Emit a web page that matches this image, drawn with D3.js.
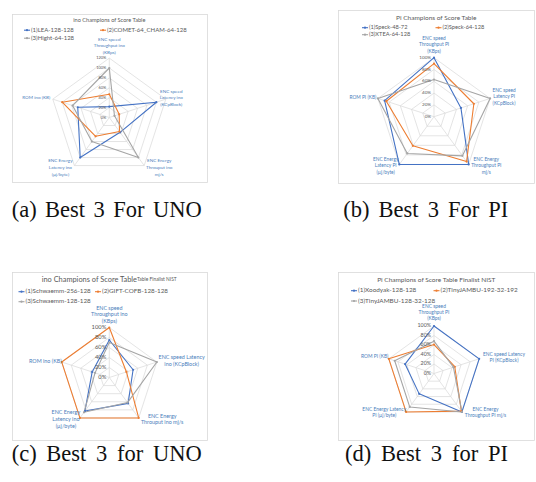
<!DOCTYPE html>
<html>
<head>
<meta charset="utf-8">
<script src="https://cdn.jsdelivr.net/npm/d3@7"></script>
<style>
  body { margin: 0; background: #fff; }
  svg { display: block; }
</style>
</head>
<body>
<svg id="fig" width="536" height="482"></svg>
<script>
// ---------- data ----------
// Axis order around each radar: top, right, lower right, lower left, left.

// (a) UNO
const titleA = ["ino  Champions of Score Table"];
const axisLabelsA = [
  ["ENC speed", "Throughput ino", "(KBps)"],
  ["ENC speed", "Latency ino", "(KCpBlock)"],
  ["ENC Energy", "Throuput ino", "mj/s"],
  ["ENC Energy", "Latency ino", "(µj/byte)"],
  ["ROM ino (KB)"]
];
const seriesA = ["(1)LEA-128-128", "(2)COMET-64_CHAM-64-128", "(3)Hight-64-128"];
const leaValues = [22, 100, 37, 100, 67];
const cometValues = [47, 21, 35, 47, 100];
const hightValues = [100, 11, 100, 60, 78];
const tickValuesA = [0, 20, 40, 60, 80, 100, 120];
const tickLabelsA = ["0%", "20%", "40%", "60%", "80%", "100%", "120%"];

// (b) PI
const titleB = ["Pi Champions of Score Table"];
const axisLabelsB = [
  ["ENC speed", "Throughput PI", "(KBps)"],
  ["ENC speed", "Latency PI", "(KCpBlock)"],
  ["ENC Energy", "Throughput PI", "mj/s"],
  ["ENC Energy", "Latency PI", "(µj/byte)"],
  ["ROM PI (KB)"]
];
const seriesB = ["(1)Speck-48-72", "(2)Speck-64-128", "(3)XTEA-64-128"];
const speck48Values = [100, 48, 100, 100, 88];
const speck64Values = [90, 71, 94, 61, 85];
const xteaValues = [63, 100, 82, 77, 100];
const tickValuesB = [0, 20, 40, 60, 80, 100];
const tickLabelsB = ["0%", "20%", "40%", "60%", "80%", "100%"];

// (c) UNO, NIST finalists
const titleC = ["ino  Champions of Score Table", "Table Finalist NIST"];
const axisLabelsC = [
  ["ENC speed", "Throughput ino", "(KBps)"],
  ["ENC speed Latency", "ino (KCpBlock)"],
  ["ENC Energy", "Throuput ino mj/s"],
  ["ENC Energy", "Latency ino", "(µj/byte)"],
  ["ROM ino (KB)"]
];
const seriesC = ["(1)Schwaemm-256-128", "(2)GIFT-COFB-128-128", "(3)Schwaemm-128-128"];
const schwaemm256Values = [75, 50, 64, 83, 36];
const giftCofbValues = [100, 36, 100, 100, 100];
const schwaemm128Values = [70, 100, 62, 86, 30];
const tickValuesC = [0, 20, 40, 60, 80, 100];
const tickLabelsC = ["0%", "20%", "40%", "60%", "80%", "100%"];

// (d) PI, NIST finalists
const titleD = ["Pi Champions of Score Table Finalist NIST"];
const axisLabelsD = [
  ["ENC speed", "Throughput PI", "(KBps)"],
  ["ENC speed Latency", "PI (KCpBlock)"],
  ["ENC Energy", "Throughput PI mj/s"],
  ["ENC Energy Latency", "PI (µj/byte)"],
  ["ROM PI (KB)"]
];
const seriesD = ["(1)Xoodyak-128-128", "(2)TinyJAMBU-192-32-192", "(3)TinyJAMBU-128-32-128"];
const xoodyakValues = [100, 100, 100, 53, 64];
const tinyJambu192Values = [61, 46, 98, 100, 100];
const tinyJambu128Values = [68, 43, 100, 87, 87];
const tickValuesD = [0, 20, 40, 60, 80, 100];
const tickLabelsD = ["0%", "20%", "40%", "60%", "80%", "100%"];

const captions = ["(a) Best 3 For UNO", "(b) Best 3 For PI", "(c) Best 3 for UNO", "(d) Best 3 for PI"];

// ---------- styling / layout ----------
const seriesColors = ["#4472C4", "#ED7D31", "#A5A5A5"];
const FONT = "Lato, 'Open Sans', sans-serif";
const AXIS_TEXT = "#4a7ebb";
const GRID = "#d9d9d9";

const panels = [
  {
    frame: [12, 14, 195, 168],
    title: titleA, titleSizes: [5.6], titleX: 109.3, titleY: 21, titleAnchor: "middle",
    legendRows: [30.2, 38.2], legendCols: [24, 100], legendSize: 6.0,
    cx: 109.3, cy: 117.5, rOuter: 59.4,
    tickValues: tickValuesA, tickLabels: tickLabelsA, tickSize: 4.0,
    axisLabels: axisLabelsA, axisSize: 4.6, axisLine: 6.6,
    labelOffsets: [[0, -12], [5.5, -1], [15, 2.5], [-14, 2.5], [-16.6, -1]],
    series: seriesA, values: [leaValues, cometValues, hightValues]
  },
  {
    frame: [338, 10, 196, 173],
    title: titleB, titleSizes: [6.5], titleX: 436.3, titleY: 17.5, titleAnchor: "middle",
    legendRows: [27.7, 34.7], legendCols: [362, 435.5], legendSize: 5.7,
    cx: 434, cy: 116.7, rOuter: 59,
    tickValues: tickValuesB, tickLabels: tickLabelsB, tickSize: 4.6,
    axisLabels: axisLabelsB, axisSize: 4.8, axisLine: 6.5,
    labelOffsets: [[0, -12.4], [14, -1.2], [17.6, 2], [-13.6, 2], [-15, 0]],
    series: seriesB, values: [speck48Values, speck64Values, xteaValues]
  },
  {
    frame: [12, 272, 195, 168],
    title: titleC, titleSizes: [7.4, 4.9], titleX: 41.7, titleY: 279.5, titleAnchor: "start",
    legendRows: [291.7, 301.7], legendCols: [18.5, 95], legendSize: 6.3,
    cx: 109.3, cy: 377.5, rOuter: 50,
    tickValues: tickValuesC, tickLabels: tickLabelsC, tickSize: 5.8,
    axisLabels: axisLabelsC, axisSize: 5.4, axisLine: 6.7,
    labelOffsets: [[0, -12.3], [24.8, -0.3], [23.5, 2], [-14, 2], [-16.4, 0]],
    series: seriesC, values: [schwaemm256Values, giftCofbValues, schwaemm128Values]
  },
  {
    frame: [338, 272, 196, 168],
    title: titleD, titleSizes: [6.5], titleX: 436.3, titleY: 279.5, titleAnchor: "middle",
    legendRows: [290.7, 301], legendCols: [351, 433.5], legendSize: 6.4,
    cx: 434, cy: 373.5, rOuter: 47.5,
    tickValues: tickValuesD, tickLabels: tickLabelsD, tickSize: 5.3,
    axisLabels: axisLabelsD, axisSize: 4.9, axisLine: 6.0,
    labelOffsets: [[0, -13], [24.8, -1], [23.6, 1], [-21.8, 1], [-14.1, -1.5]],
    series: seriesD, values: [xoodyakValues, tinyJambu192Values, tinyJambu128Values]
  }
];

const svg = d3.select("#fig");
svg.append("rect").attr("width", 536).attr("height", 482).attr("fill", "#fff");

function drawRadar(p) {
  const g = svg.append("g");
  const n = p.axisLabels.length;

  // chart area border
  g.append("rect")
    .attr("x", p.frame[0] + 0.5).attr("y", p.frame[1] + 0.5)
    .attr("width", p.frame[2]).attr("height", p.frame[3])
    .attr("fill", "#fff").attr("stroke", GRID).attr("stroke-width", 0.8);

  // title (may be split into runs of different sizes)
  const title = g.append("text")
    .attr("x", p.titleX).attr("y", p.titleY)
    .attr("text-anchor", p.titleAnchor).attr("dominant-baseline", "middle")
    .attr("font-family", FONT).attr("fill", "#595959");
  p.title.forEach((t, i) => title.append("tspan").attr("font-size", p.titleSizes[i]).text(t));

  // legend
  p.series.forEach((name, i) => {
    const row = i < 2 ? 0 : 1;
    const x = p.legendCols[i % 2];
    const y = p.legendRows[row];
    const lg = g.append("g");
    lg.append("line").attr("x1", x).attr("x2", x + 6).attr("y1", y).attr("y2", y)
      .attr("stroke", seriesColors[i]).attr("stroke-width", 1.1);
    lg.append("circle").attr("cx", x + 3).attr("cy", y).attr("r", 1.1).attr("fill", seriesColors[i]);
    lg.append("text").attr("x", x + 7).attr("y", y).attr("dominant-baseline", "middle")
      .attr("font-family", FONT).attr("font-size", p.legendSize).attr("fill", "#595959").text(name);
  });

  const maxTick = p.tickValues[p.tickValues.length - 1];
  const r = d3.scaleLinear().domain([0, maxTick]).range([0, p.rOuter]);
  const angle = d3.scaleLinear().domain([0, n]).range([0, 2 * Math.PI]);
  const pt = (i, v) => [p.cx + r(v) * Math.sin(angle(i)), p.cy - r(v) * Math.cos(angle(i))];

  // grid rings
  p.tickValues.slice(1).forEach(t => {
    g.append("polygon")
      .attr("points", d3.range(n).map(i => pt(i, t).join(",")).join(" "))
      .attr("fill", "none").attr("stroke", GRID).attr("stroke-width", 0.7);
  });
  // spokes
  d3.range(n).forEach(i => {
    const [x, y] = pt(i, maxTick);
    g.append("line").attr("x1", p.cx).attr("y1", p.cy).attr("x2", x).attr("y2", y)
      .attr("stroke", GRID).attr("stroke-width", 0.7);
  });

  // series polygons
  const radial = d3.lineRadial()
    .angle((d, i) => angle(i))
    .radius(d => r(d))
    .curve(d3.curveLinearClosed);
  const plot = g.append("g").attr("transform", `translate(${p.cx},${p.cy})`);
  p.values.forEach((vals, s) => {
    plot.append("path").attr("d", radial(vals))
      .attr("fill", "none").attr("stroke", seriesColors[s]).attr("stroke-width", 1.1)
      .attr("stroke-linejoin", "round");
  });
  p.values.forEach((vals, s) => {
    vals.forEach((v, i) => {
      const [x, y] = pt(i, v);
      g.append("circle").attr("cx", x).attr("cy", y).attr("r", 1.1).attr("fill", seriesColors[s]);
    });
  });

  // tick labels along the top axis
  p.tickValues.forEach((t, k) => {
    const [, y] = pt(0, t);
    g.append("text").attr("x", p.cx - 3).attr("y", y)
      .attr("text-anchor", "end").attr("dominant-baseline", "middle")
      .attr("font-family", FONT).attr("font-size", p.tickSize).attr("fill", "#595959")
      .text(p.tickLabels[k]);
  });

  // axis category labels
  p.axisLabels.forEach((lines, i) => {
    const [vx, vy] = pt(i, maxTick);
    const cx = vx + p.labelOffsets[i][0];
    const cy = vy + p.labelOffsets[i][1];
    const y0 = cy - (lines.length - 1) * p.axisLine / 2;
    const t = g.append("text").attr("text-anchor", "middle").attr("dominant-baseline", "middle")
      .attr("font-family", FONT).attr("font-size", p.axisSize).attr("fill", AXIS_TEXT);
    lines.forEach((ln, j) => t.append("tspan").attr("x", cx).attr("y", y0 + j * p.axisLine).text(ln));
  });
}

panels.forEach(drawRadar);

// sub-figure captions
const captionPos = [[11.7, 217.3, 201.7], [343.3, 217.3, 508.3], [11.7, 460.7, 201.7], [345, 460.7, 508]];
captions.forEach((c, i) => {
  const [x, y, xEnd] = captionPos[i];
  const t = svg.append("text").attr("x", x).attr("y", y)
    .attr("font-family", "'Liberation Serif', 'Times New Roman', serif")
    .attr("font-size", 22.5).attr("fill", "#111").text(c);
  const natural = t.node().getComputedTextLength();
  const spaces = c.split(" ").length - 1;
  t.attr("word-spacing", Math.max(0, (xEnd - x - natural) / spaces));
});
</script>
</body>
</html>
